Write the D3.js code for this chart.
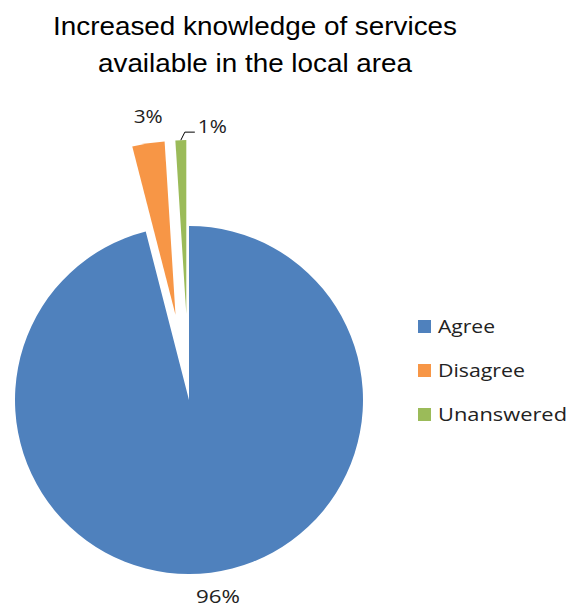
<!DOCTYPE html>
<html>
<head>
<meta charset="utf-8">
<script src="https://cdn.jsdelivr.net/npm/d3@7/dist/d3.min.js"></script>
<style>
  html, body { margin: 0; padding: 0; background: #fff; }
  svg { display: block; }
</style>
</head>
<body>
<script>
// Survey responses
const categories = ["Agree", "Disagree", "Unanswered"];
const values = [96, 3, 1];
const colors = ["#4F81BD", "#F79646", "#9BBB59"];
const titleLines = ["Increased knowledge of services", "available in the local area"];
// Slices pulled out from the centre (px)
const explode = [0, 86, 86];

const width = 569, height = 610;
const cx = 189, cy = 400, R = 174, labelR = 200;

const svg = d3.select("body").append("svg")
  .attr("width", width).attr("height", height);

// Title
const titleWidths = [404, 314];
svg.append("g").selectAll("text").data(titleLines).join("text")
  .attr("x", 255).attr("y", (d, i) => 35 + i * 37)
  .attr("text-anchor", "middle")
  .attr("font-family", "'Liberation Sans', Arial, sans-serif")
  .attr("font-size", 26)
  .attr("fill", "#000")
  .attr("textLength", (d, i) => titleWidths[i])
  .attr("lengthAdjust", "spacingAndGlyphs")
  .text(d => d);

const data = categories.map((c, i) => ({ name: c, value: values[i], color: colors[i], explode: explode[i] }));

const pie = d3.pie().value(d => d.value).sort(null);
const arcs = pie(data);
const arc = d3.arc().innerRadius(0).outerRadius(R);

const g = svg.append("g").attr("transform", `translate(${cx},${cy})`);

function offset(a, r) {
  const mid = (a.startAngle + a.endAngle) / 2;
  return [Math.sin(mid) * r, -Math.cos(mid) * r];
}

// Slices, the small ones pulled outwards along their bisector
const slices = g.selectAll("g.slice").data(arcs).join("g")
  .attr("class", "slice")
  .attr("transform", d => {
    const [x, y] = offset(d, d.data.explode);
    return `translate(${x},${y})`;
  });

slices.append("path")
  .attr("d", arc)
  .attr("fill", d => d.data.color);

const labelFont = "'Open Sans', Lato, sans-serif";
const labelWidth = v => (String(v).length > 1 ? 44 : 29);

// Data labels
arcs.forEach(d => {
  const [ox, oy] = offset(d, d.data.explode);
  if (d.data.name === "Unanswered") {
    // leader line to the thin slice
    const mid = (d.startAngle + d.endAngle) / 2;
    const sx = ox + Math.sin(mid) * R, sy = oy - Math.cos(mid) * R;
    g.append("path")
      .attr("d", `M${sx},${sy} L${sx + 4},${sy - 8} L${sx + 14},${sy - 8}`)
      .attr("fill", "none").attr("stroke", "#000").attr("stroke-width", 1);
    g.append("text")
      .attr("x", sx + 17).attr("y", sy - 7)
      .attr("font-family", labelFont).attr("font-size", 18)
      .attr("fill", "#222")
      .attr("textLength", labelWidth(d.data.value)).attr("lengthAdjust", "spacingAndGlyphs")
      .text(d.data.value + "%");
  } else {
    const [lx, ly] = offset(d, d.data.explode + labelR);
    g.append("text")
      .attr("x", lx + 4).attr("y", ly + 5)
      .attr("text-anchor", "middle")
      .attr("font-family", labelFont).attr("font-size", 18)
      .attr("fill", "#222")
      .attr("textLength", labelWidth(d.data.value)).attr("lengthAdjust", "spacingAndGlyphs")
      .text(d.data.value + "%");
  }
});

// Legend
const legend = svg.append("g").attr("transform", "translate(418,320)");
const item = legend.selectAll("g").data(data).join("g")
  .attr("transform", (d, i) => `translate(0,${i * 44})`);
item.append("rect")
  .attr("width", 13).attr("height", 13)
  .attr("fill", d => d.color);
item.append("text")
  .attr("x", 20).attr("y", 12.5)
  .attr("font-family", labelFont).attr("font-size", 19)
  .attr("fill", "#222")
  .attr("textLength", d => ({ Agree: 57, Disagree: 87, Unanswered: 129 })[d.name])
  .attr("lengthAdjust", "spacingAndGlyphs")
  .text(d => d.name);
</script>
</body>
</html>
